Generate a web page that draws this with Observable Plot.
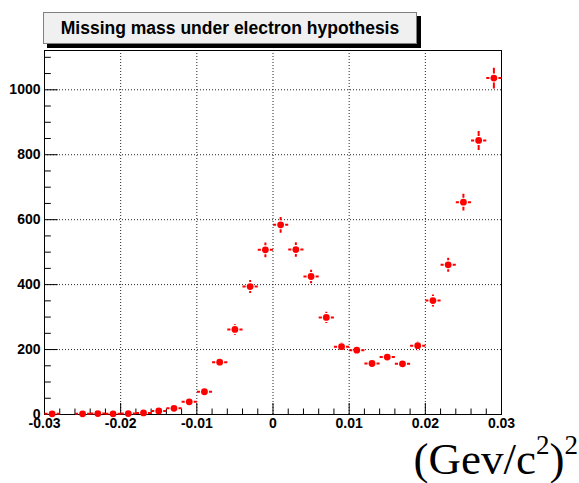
<!DOCTYPE html>
<html>
<head>
<meta charset="utf-8">
<script src="https://cdn.jsdelivr.net/npm/d3@7"></script>
<script src="https://cdn.jsdelivr.net/npm/@observablehq/plot@0.6"></script>
<style>
  body { margin: 0; background: #fff; }
  #wrap { position: relative; width: 579px; height: 483px; overflow: hidden; }
  #title {
    position: absolute; left: 43px; top: 12px; width: 374px; height: 32px;
    box-sizing: border-box; background: #f0f0f0; border: 1px solid #808080;
    box-shadow: 4px 4px 0 #000; color: #000;
    font: bold 17.5px "Liberation Sans", Arial, sans-serif;
    text-align: center; line-height: 30px; white-space: nowrap;
  }
  #xtitle {
    position: absolute; right: 1px; top: 437px;
    font-family: "Liberation Serif", "Times New Roman", serif;
    font-size: 45px; line-height: 45px; white-space: nowrap; color: #000;
  }
  #xtitle sup { font-size: 0.6em; vertical-align: baseline; position: relative; top: -0.75em; }
</style>
</head>
<body>
<div id="wrap">
  <div id="chart"></div>
  <div id="title">Missing mass under electron hypothesis</div>
  <div id="xtitle">(Gev/c<sup>2</sup>)<sup>2</sup></div>
</div>
<script>
// Histogram bin centres (bin width 0.002) and entries per bin
const binCenters = [
  -0.029, -0.027, -0.025, -0.023, -0.021, -0.019, -0.017, -0.015, -0.013, -0.011,
  -0.009, -0.007, -0.005, -0.003, -0.001, 0.001, 0.003, 0.005, 0.007, 0.009,
  0.011, 0.013, 0.015, 0.017, 0.019, 0.021, 0.023, 0.025, 0.027, 0.029
];
const counts = [
  2, 0, 2, 3, 2, 3, 5, 11, 19, 39,
  70, 161, 262, 394, 507, 584, 508, 425, 299, 209,
  198, 157, 177, 156, 212, 351, 461, 654, 844, 1036
];
const binHalfWidth = 0.001;

// Axis ticks
const xMajor = [-0.03, -0.02, -0.01, 0, 0.01, 0.02, 0.03];
const xMinor = [
  -0.028, -0.026, -0.024, -0.022, -0.018, -0.016, -0.014, -0.012,
  -0.008, -0.006, -0.004, -0.002, 0.002, 0.004, 0.006, 0.008,
  0.012, 0.014, 0.016, 0.018, 0.022, 0.024, 0.026, 0.028
];
const xGrid = [-0.02, -0.01, 0, 0.01, 0.02];
const yMajor = [0, 200, 400, 600, 800, 1000];
const yMinor = [50, 100, 150, 250, 300, 350, 450, 500, 550, 650, 700, 750, 850, 900, 950, 1050, 1100];
const yGrid = [200, 400, 600, 800, 1000];

// Empty bins are not drawn
const bins = binCenters
  .map((x, i) => ({x, n: counts[i], err: Math.sqrt(counts[i])}))
  .filter(d => d.n > 0);

const red = "#f00";
// error-bar segments start just outside the marker
const barDash = "0,4.5,100";

const fmtX = d => (d === 0 ? "0" : d.toFixed(2));
const fmtY = d => String(d);

const chart = Plot.plot({
  width: 579,
  height: 483,
  marginLeft: 44,
  marginRight: 78,
  marginTop: 50,
  marginBottom: 69,
  x: {domain: [-0.03, 0.03]},
  y: {domain: [0, 1121]},
  style: {
    fontFamily: "'Liberation Sans', Arial, sans-serif",
    fontSize: "14px",
    fontWeight: "bold",
    background: "#fff",
    color: "#000",
    overflow: "visible"
  },
  marks: [
    Plot.gridX(xGrid, {stroke: "#000", strokeOpacity: 0.85, strokeDasharray: "1,2"}),
    Plot.gridY(yGrid, {stroke: "#000", strokeOpacity: 0.85, strokeDasharray: "1,2"}),
    // inward tick marks
    Plot.axisX({ticks: xMinor, tickSize: -5.5, text: null, label: null}),
    Plot.axisX({ticks: xMajor, tickSize: -11, text: null, label: null}),
    Plot.axisY({ticks: yMinor, tickSize: -6.8, text: null, label: null}),
    Plot.axisY({ticks: yMajor, tickSize: -13.7, text: null, label: null}),
    // tick labels
    Plot.axisX({ticks: xMajor, tickSize: 0, tickPadding: 4, tickFormat: fmtX, label: null}),
    Plot.axisY({ticks: yMajor, tickSize: 0, tickPadding: 4, tickFormat: fmtY, label: null}),
    Plot.frame({stroke: "#000"}),
    // error bars, drawn outward from each bin centre
    Plot.link(bins, {x1: "x", x2: d => d.x - binHalfWidth, y1: "n", y2: "n",
      stroke: red, strokeWidth: 2, strokeDasharray: barDash}),
    Plot.link(bins, {x1: "x", x2: d => d.x + binHalfWidth, y1: "n", y2: "n",
      stroke: red, strokeWidth: 2, strokeDasharray: barDash}),
    Plot.link(bins, {x1: "x", x2: "x", y1: "n", y2: d => d.n + d.err,
      stroke: red, strokeWidth: 2, strokeDasharray: barDash}),
    Plot.link(bins, {x1: "x", x2: "x", y1: "n", y2: d => Math.max(0, d.n - d.err),
      stroke: red, strokeWidth: 2, strokeDasharray: barDash}),
    Plot.dot(bins, {x: "x", y: "n", r: 3.4, fill: red, stroke: null})
  ]
});

document.getElementById("chart").append(chart);
</script>
</body>
</html>
